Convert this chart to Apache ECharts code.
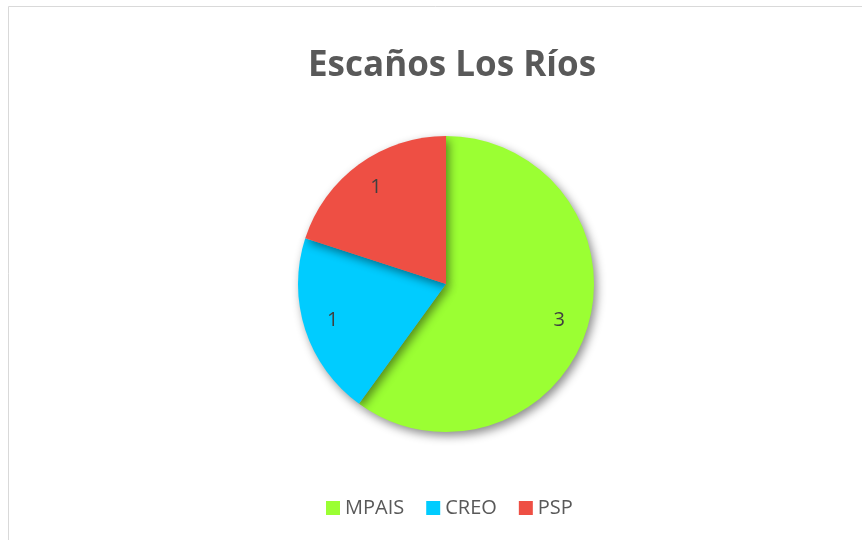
<!DOCTYPE html>
<html>
<head>
<meta charset="utf-8">
<script src="https://cdn.jsdelivr.net/npm/echarts@6/dist/echarts.min.js"></script>
<style>
  html, body { margin: 0; padding: 0; background: #fff; }
  #chart { width: 862px; height: 540px; }
</style>
</head>
<body>
<div id="chart"></div>
<script>
// datos
const partidos = ['MPAIS', 'CREO', 'PSP'];
const escanos = [3, 1, 1];
const colores = ['#9BFF33', '#00CCFF', '#EE4F44'];

const pieData = partidos.map((p, i) => ({
    name: p,
    value: escanos[i],
    itemStyle: { color: colores[i] }
}));

const chart = echarts.init(document.getElementById('chart'));
chart.setOption({
    backgroundColor: '#fff',
    animation: false,
    title: {
        text: 'Escaños Los Ríos',
        left: 303,
        top: 44,
        textStyle: {
            fontFamily: 'Open Sans',
            fontWeight: 'bold',
            fontSize: 35,
            color: '#595959'
        }
    },
    // marco del gráfico
    graphic: [{
        type: 'rect',
        shape: { x: 8.5, y: 6.5, width: 900, height: 600 },
        style: { fill: 'none', stroke: '#d9d9d9', lineWidth: 1 },
        silent: true
    }],
    legend: {
        data: partidos,
        bottom: 17,
        left: 321,
        itemWidth: 14,
        itemHeight: 14,
        itemGap: 22,
        icon: 'rect',
        textStyle: {
            fontFamily: 'Open Sans',
            fontSize: 20,
            color: '#595959'
        }
    },
    series: [
        {
            type: 'pie',
            center: [446, 284],
            radius: 148,
            startAngle: 90,
            clockwise: true,
            label: { show: false },
            labelLine: { show: false },
            emphasis: { disabled: true },
            itemStyle: {
                shadowBlur: 10,
                shadowOffsetX: 3,
                shadowOffsetY: 4,
                shadowColor: 'rgba(0,0,0,0.45)'
            },
            data: pieData
        },
        {
            // capa de etiquetas
            type: 'pie',
            center: [446, 284],
            radius: [84, 148],
            startAngle: 90,
            clockwise: true,
            silent: true,
            itemStyle: { color: 'transparent' },
            label: {
                show: true,
                position: 'inside',
                formatter: '{c}',
                fontFamily: 'Open Sans',
                fontSize: 20,
                color: '#404040'
            },
            labelLine: { show: false },
            data: partidos.map((p, i) => ({ name: p, value: escanos[i], itemStyle: { color: 'transparent' } }))
        }
    ]
});
</script>
</body>
</html>
